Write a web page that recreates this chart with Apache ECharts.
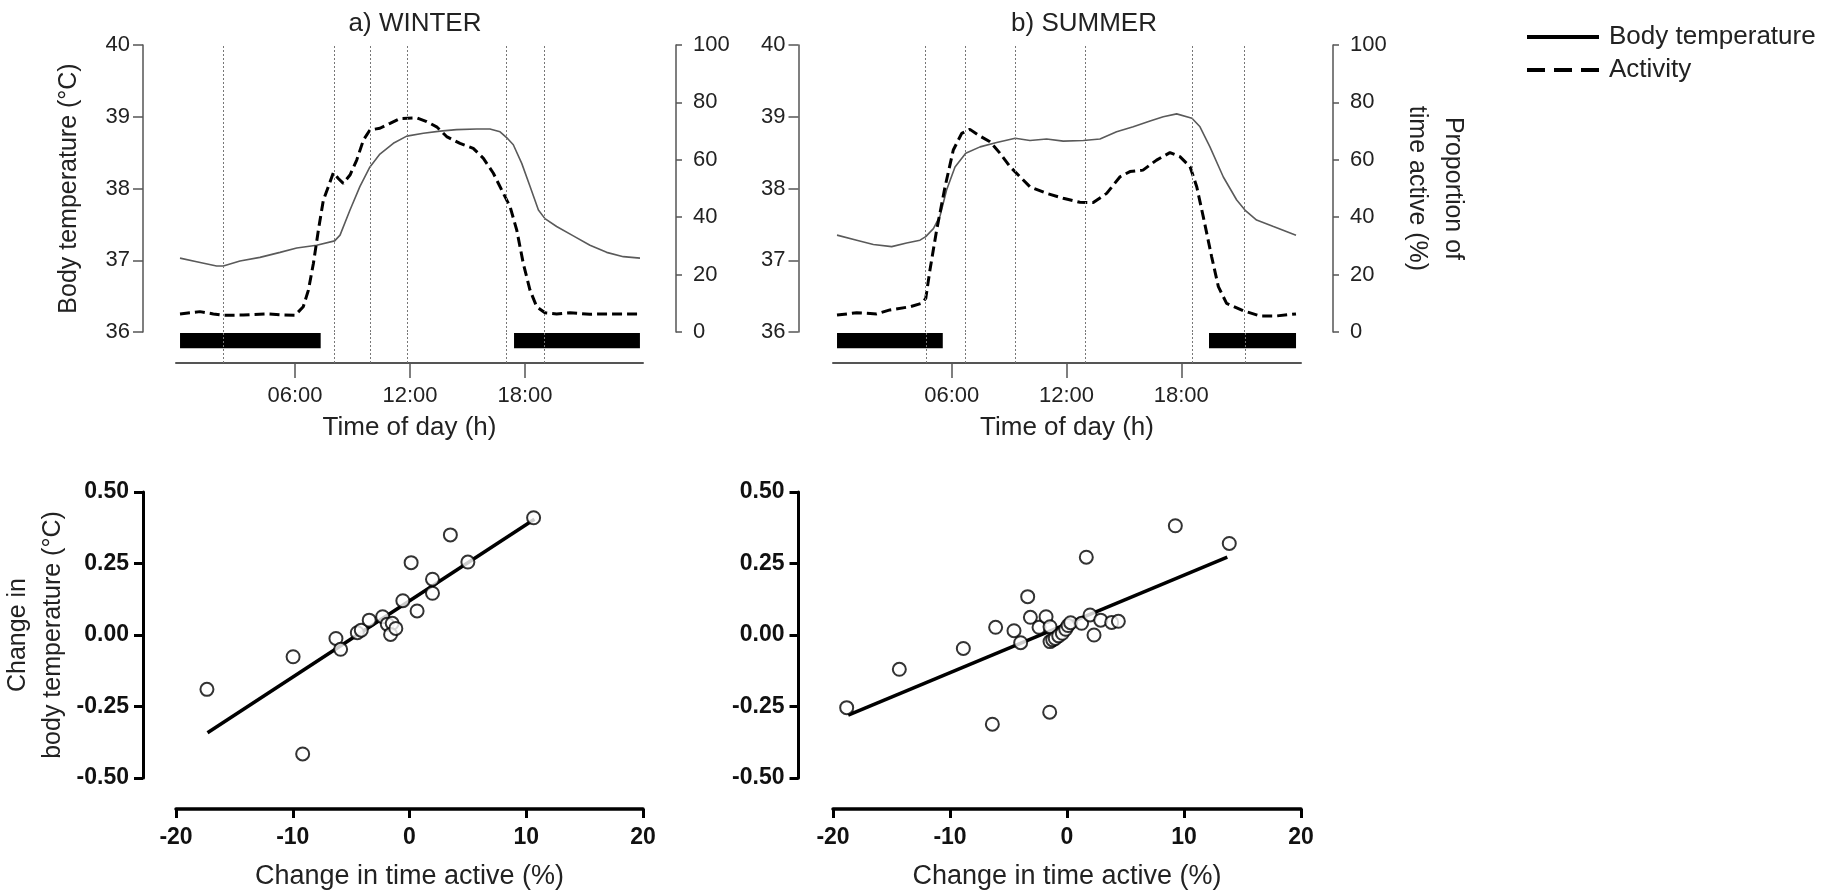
<!DOCTYPE html>
<html>
<head>
<meta charset="utf-8">
<script src="https://cdn.jsdelivr.net/npm/echarts@6/dist/echarts.min.js"></script>
<style>
html,body{margin:0;padding:0;background:#fff;}
#chart{width:1831px;height:891px;}
</style>
</head>
<body>
<div id="chart"></div>
<script>
// ---------- DATA ----------
// Winter time series (hours of day)
const winterTempHours = [0,0.87,1.91,2.26,3.13,4.17,5.22,6.09,7.13,8.07,8.35,8.87,9.39,9.91,10.43,11.13,11.83,12.7,13.57,14.43,15.48,16.17,16.7,17.04,17.39,17.83,18.26,18.7,19.04,19.65,20.52,21.39,22.26,23.13,24];
const winterTemp = [37.03,36.98,36.92,36.92,36.99,37.04,37.11,37.17,37.21,37.27,37.35,37.70,38.03,38.30,38.48,38.63,38.73,38.77,38.80,38.82,38.83,38.83,38.79,38.71,38.61,38.35,38.03,37.70,37.58,37.47,37.34,37.21,37.11,37.05,37.03];
const winterActHours = [0,1.04,1.74,2.26,3.3,4.52,5.39,6.0,6.43,6.7,6.96,7.22,7.48,7.74,8.0,8.26,8.52,8.87,9.22,9.57,9.91,10.43,10.96,11.48,12.35,12.87,13.39,13.91,14.61,15.3,15.83,16.35,16.87,17.22,17.57,17.91,18.26,18.61,19.04,19.65,20.35,21.39,22.43,24];
const winterAct = [6.3,7.1,6.3,5.8,5.9,6.3,5.9,5.8,8.8,14.6,23.9,35.5,46.0,50.6,55.5,53.5,51.8,54.7,59.9,66.9,70.4,71.0,72.7,74.4,74.6,73.3,71.5,68.1,65.7,64.0,60.5,55.3,48.3,43.7,35.5,23.9,14.6,8.8,6.7,6.3,6.7,6.2,6.3,6.3];
const winterNight = [[0,7.34],[17.43,24]];
const winterMarks = [2.26,8.07,9.93,11.84,17.01,19.0];

// Summer time series
const summerTempHours = [0,1.03,1.9,2.86,3.64,4.34,4.64,5.04,5.39,5.73,6.17,6.73,7.48,8.35,9.32,10.09,10.96,11.83,12.88,13.75,14.62,15.49,16.37,17.06,17.76,18.56,18.98,19.5,20.2,20.9,21.33,21.94,22.82,24];
const summerTemp = [37.35,37.28,37.22,37.19,37.24,37.28,37.33,37.44,37.62,37.98,38.30,38.49,38.58,38.64,38.70,38.67,38.69,38.66,38.67,38.69,38.79,38.86,38.94,39.0,39.04,38.98,38.86,38.58,38.16,37.84,37.70,37.56,37.47,37.35];
const summerActHours = [0,1.03,2.07,2.77,3.82,4.43,4.64,4.86,5.21,5.65,6.08,6.52,6.95,7.39,8.0,8.52,9.05,9.57,10.09,10.96,11.83,12.7,13.4,14.1,14.8,15.32,16.0,16.71,17.41,17.93,18.46,18.81,19.15,19.59,19.94,20.37,21.25,22.12,22.99,24];
const summerAct = [5.9,6.7,6.3,7.7,8.8,10.0,11.7,21.6,35.5,50.6,63.4,69.2,70.6,68.6,66.3,62.3,57.6,54.1,50.6,48.3,46.6,45.2,45.1,48.3,54.1,55.9,56.4,59.9,62.5,61.1,57.6,50.6,40.2,26.2,15.8,10.0,7.4,5.6,5.6,6.3];
const summerNight = [[0,5.53],[19.45,24]];
const summerMarks = [4.64,6.73,9.32,12.97,18.59,21.32];

const timeTicks = [6,12,18];

// Scatter: change in time active (%) vs change in body temperature (°C)
const winterDx = [-17.35,-9.15,-9.97,-6.3,-5.9,-4.47,-4.13,-3.45,-2.3,-1.9,-1.48,-1.62,-1.17,-0.57,0.14,0.65,1.97,1.97,3.5,5.0,10.63];
const winterDy = [-0.19,-0.416,-0.076,-0.012,-0.05,0.008,0.017,0.052,0.064,0.038,0.041,0.002,0.023,0.12,0.253,0.084,0.146,0.195,0.35,0.255,0.41];
const winterFit = [[-17.3,-0.342],[10.7,0.405]];

const summerDx = [-18.83,-14.33,-8.86,-6.38,-6.1,-4.53,-3.96,-3.36,-3.13,-2.39,-1.79,-1.45,-1.48,-1.45,-1.22,-1.0,-0.71,-0.4,-0.11,0.09,0.31,1.25,1.97,1.65,2.31,2.88,3.82,4.39,9.26,13.87];
const summerDy = [-0.254,-0.12,-0.047,-0.312,0.027,0.015,-0.027,0.134,0.062,0.027,0.064,0.029,-0.27,-0.023,-0.017,-0.012,-0.003,0.006,0.02,0.033,0.043,0.041,0.07,0.272,0.0,0.052,0.044,0.048,0.382,0.32];
const summerFit = [[-18.7,-0.28],[13.7,0.272]];

// ---------- CHART ----------
const FONT = "'Liberation Sans', Arial, Helvetica, sans-serif";
const TXT = '#222';
const AX = '#555';
const zip = (a,b) => a.map((v,i)=>[v,b[i]]);

function topPanel(idx, cfg) {
  const gA = 2*idx, gB = 2*idx+1;
  const grids = [
    {left: cfg.left, width: cfg.width, top: 45, height: 287},
    {left: cfg.axLeft, width: cfg.axWidth, top: 333, height: 30}
  ];
  const xAxes = [
    {gridIndex: gA, type:'value', min:0, max:24, show:false},
    {gridIndex: gB, type:'value', min:cfg.axMin, max:cfg.axMax,
     axisLine:{show:true, onZero:false, lineStyle:{color:AX, width:2}},
     axisTick:{show:true, customValues: timeTicks, length:15, lineStyle:{color:AX, width:1.5}},
     axisLabel:{show:true, customValues: timeTicks, margin:22, fontSize:22, color:TXT, fontFamily:FONT,
       formatter: v => (v<10?'0':'')+v+':00'},
     splitLine:{show:false},
     name:'Time of day (h)', nameLocation:'middle', nameGap:52,
     nameTextStyle:{fontSize:26, color:TXT, fontFamily:FONT}}
  ];
  const yAxes = [
    {gridIndex: gA, type:'value', min:36, max:40, interval:1, position:'left', offset: cfg.leftOff,
     axisLine:{show:true, onZero:false, lineStyle:{color:AX, width:1.5}},
     axisTick:{show:true, length:10, lineStyle:{color:AX, width:1.5}},
     axisLabel:{margin:13, fontSize:22, color:TXT, fontFamily:FONT},
     splitLine:{show:false},
     name: cfg.leftName || '', nameLocation:'middle', nameGap:61, nameRotate:90,
     nameTextStyle:{fontSize:25, color:TXT, fontFamily:FONT}},
    {gridIndex: gA, type:'value', min:0, max:100, interval:20, position:'right', offset: cfg.rightOff,
     axisLine:{show:true, onZero:false, lineStyle:{color:AX, width:1.5}},
     axisTick:{show:true, length:6, lineStyle:{color:AX, width:1.5}},
     axisLabel:{margin:17, fontSize:22, color:TXT, fontFamily:FONT},
     splitLine:{show:false},
     name: cfg.rightName || '', nameLocation:'middle', nameGap:66, nameRotate:-90,
     nameTextStyle:{fontSize:25, color:TXT, fontFamily:FONT, lineHeight:36}},
    {gridIndex: gB, type:'value', min:0, max:1, show:false}
  ];
  return {grids, xAxes, yAxes};
}

const W = topPanel(0, {left:180, width:460, axLeft:176, axWidth:467, axMin:-0.21, axMax:24.16,
  leftOff:37, rightOff:36, leftName:'Body temperature (°C)'});
const S = topPanel(1, {left:837, width:459, axLeft:833, axWidth:468, axMin:-0.21, axMax:24.26,
  leftOff:38.5, rightOff:37, rightName:'Proportion of\ntime active (%)'});

function scatterAxes(gi, offY, yName) {
  const x = {gridIndex:gi, type:'value', min:-20, max:20, interval:10, offset:31, position:'bottom',
    axisLine:{show:true, onZero:false, lineStyle:{color:'#000', width:3.5}},
    axisTick:{show:true, length:9, lineStyle:{color:'#000', width:3}},
    axisLabel:{margin:17, fontSize:23, fontWeight:'bold', color:'#111', fontFamily:FONT},
    splitLine:{show:false},
    name:'Change in time active (%)', nameLocation:'middle', nameGap:54,
    nameTextStyle:{fontSize:27, color:TXT, fontFamily:FONT}};
  const y = {gridIndex:gi, type:'value', min:-0.5, max:0.5, interval:0.25, offset:offY, position:'left',
    axisLine:{show:true, onZero:false, lineStyle:{color:'#000', width:3}},
    axisTick:{show:true, length:9, lineStyle:{color:'#000', width:3}},
    axisLabel:{margin:14, fontSize:23, fontWeight:'bold', color:'#111', fontFamily:FONT,
      formatter: v => v.toFixed(2)},
    splitLine:{show:false},
    name: yName || '', nameLocation:'middle', nameGap:72, nameRotate:90,
    nameTextStyle:{fontSize:25, color:TXT, fontFamily:FONT, lineHeight:35}};
  return {x, y};
}
const WS = scatterAxes(4, 33, 'Change in\nbody temperature (°C)');
const SS = scatterAxes(5, 34.5, '');

const dotted = {color:'#777', width:1, type:[2,2]};
function markLines(arr){
  return {silent:true, symbol:'none', label:{show:false}, lineStyle:dotted, animation:false,
    data: arr.map(h => ({xAxis:h}))};
}
function nightBars(name, xi, yi, data, marks){
  return {type:'custom', name, xAxisIndex:xi, yAxisIndex:yi, data, encode:{x:[0,1]},
    renderItem:(params, api) => {
      const s = api.coord([api.value(0), 1]);
      const e = api.coord([api.value(1), 0.49]);
      return {type:'rect', shape:{x:s[0], y:s[1], width:e[0]-s[0], height:e[1]-s[1]}, style:{fill:'#000'}};
    },
    markLine: markLines(marks), z:1};
}

const tempLine = {color:'#5a5a5a', width:1.6};
const actLine = {color:'#000', width:3, type:[10,5]};

const option = {
  animation:false,
  backgroundColor:'#fff',
  textStyle:{fontFamily:FONT},
  title:[
    {text:'a) WINTER', left:410, top:6, textAlign:'center', textStyle:{fontSize:26, fontWeight:'normal', color:TXT, fontFamily:FONT}},
    {text:'b) SUMMER', left:1079, top:6, textAlign:'center', textStyle:{fontSize:26, fontWeight:'normal', color:TXT, fontFamily:FONT}}
  ],
  legend:{
    left:1525, top:24, orient:'vertical', itemWidth:72, itemHeight:14, itemGap:7, padding:0,
    textStyle:{fontSize:26, color:TXT, fontFamily:FONT, padding:[0,0,0,5]},
    data:[
      {name:'Body temperature', lineStyle:{color:'#000', width:4, type:'solid'}, itemStyle:{color:'rgba(0,0,0,0)', borderWidth:0, opacity:0}},
      {name:'Activity', lineStyle:{color:'#000', width:4, type:[18,9]}, itemStyle:{color:'rgba(0,0,0,0)', borderWidth:0, opacity:0}}
    ]
  },
  grid:[
    ...W.grids, ...S.grids,
    {left:176, width:467, top:492, height:286},
    {left:833, width:468, top:492, height:286}
  ],
  xAxis:[...W.xAxes, ...S.xAxes, WS.x, SS.x],
  yAxis:[...W.yAxes, ...S.yAxes, WS.y, SS.y],
  series:[
    {type:'line', name:'Body temperature', xAxisIndex:0, yAxisIndex:0, data:zip(winterTempHours, winterTemp),
     symbol:'none', lineStyle:tempLine, itemStyle:{color:'#000'}, markLine:markLines(winterMarks), z:3},
    {type:'line', name:'Activity', xAxisIndex:0, yAxisIndex:1, data:zip(winterActHours, winterAct),
     symbol:'none', lineStyle:actLine, itemStyle:{color:'#000'}, z:4},
    nightBars('nightW', 1, 2, winterNight, winterMarks),
    {type:'line', name:'Body temperature', xAxisIndex:2, yAxisIndex:3, data:zip(summerTempHours, summerTemp),
     symbol:'none', lineStyle:tempLine, itemStyle:{color:'#000'}, markLine:markLines(summerMarks), z:3},
    {type:'line', name:'Activity', xAxisIndex:2, yAxisIndex:4, data:zip(summerActHours, summerAct),
     symbol:'none', lineStyle:actLine, itemStyle:{color:'#000'}, z:4},
    nightBars('nightS', 3, 5, summerNight, summerMarks),
    {type:'line', name:'fitW', xAxisIndex:4, yAxisIndex:6, data:winterFit, symbol:'none',
     lineStyle:{color:'#000', width:3.5}, z:2},
    {type:'scatter', name:'ptsW', xAxisIndex:4, yAxisIndex:6, data:zip(winterDx, winterDy),
     symbol:'emptyCircle', symbolSize:13, itemStyle:{color:'#000', borderColor:'#000', borderWidth:2.2}, z:3},
    {type:'line', name:'fitS', xAxisIndex:5, yAxisIndex:7, data:summerFit, symbol:'none',
     lineStyle:{color:'#000', width:3.5}, z:2},
    {type:'scatter', name:'ptsS', xAxisIndex:5, yAxisIndex:7, data:zip(summerDx, summerDy),
     symbol:'emptyCircle', symbolSize:13, itemStyle:{color:'#000', borderColor:'#000', borderWidth:2.2}, z:3}
  ]
};

const chart = echarts.init(document.getElementById('chart'), null, {renderer:'canvas'});
chart.setOption(option);
</script>
</body>
</html>
